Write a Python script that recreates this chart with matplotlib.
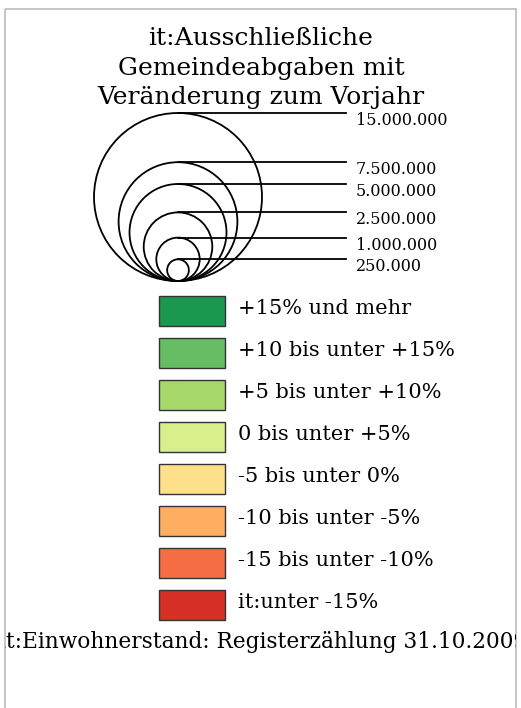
import matplotlib
matplotlib.use("Agg")
import matplotlib.pyplot as plt
from matplotlib.patches import Circle, Rectangle
import numpy as np

title_lines = ["it:Ausschließliche", "Gemeindeabgaben mit", "Veränderung zum Vorjahr"]
size_values = [15000000, 7500000, 5000000, 2500000, 1000000, 250000]
size_labels = ["15.000.000", "7.500.000", "5.000.000", "2.500.000", "1.000.000", "250.000"]
class_labels = ["+15% und mehr", "+10 bis unter +15%", "+5 bis unter +10%",
                "0 bis unter +5%", "-5 bis unter 0%", "-10 bis unter -5%",
                "-15 bis unter -10%", "it:unter -15%"]
class_colors = ["#1a9850", "#66bd63", "#a6d96a", "#d9ef8b",
                "#fee08b", "#fdae61", "#f46d43", "#d73027"]
footer = "it:Einwohnerstand: Registerzählung 31.10.2009"

plt.rcParams['font.family'] = ['DejaVu Serif']

W, H = 521, 708
fig = plt.figure(figsize=(W / 100, H / 100), dpi=100)
ax = fig.add_axes([0, 0, 1, 1])
ax.set_xlim(0, W)
ax.set_ylim(H, 0)
ax.axis('off')

# frame
frame = Rectangle((5, 9), 511, 720, fill=False, edgecolor='#bbbbbb', lw=1.2)
ax.add_patch(frame)

# title
for i, line in enumerate(title_lines):
    ax.text(261, 45 + i * 29.5, line, ha='center', va='baseline', fontsize=18)

# proportional circles (area ~ value), all touching a common bottom point
cx, base_y, r_max = 178, 281, 84
for v, lab in zip(size_values, size_labels):
    r = r_max * np.sqrt(v / size_values[0])
    ax.add_patch(Circle((cx, base_y - r), r, fill=False, edgecolor='black', lw=1.3))
    top = base_y - 2 * r
    ax.plot([cx, 346], [top, top], color='black', lw=1.3)
    ax.text(356, top + 12, lab, ha='left', va='baseline', fontsize=11.5)

# colour classes
box_x, box_w, box_h, step, first_top = 159, 66, 30, 42, 296
for i, (lab, col) in enumerate(zip(class_labels, class_colors)):
    top = first_top + i * step
    ax.add_patch(Rectangle((box_x, top), box_w, box_h, facecolor=col,
                           edgecolor='#333333', lw=1))
    ax.text(238, top + 18, lab, ha='left', va='baseline', fontsize=15)

# footer is wider than the frame and gets cut at its edges, as in the original
t = ax.text(263, 648, footer, ha='center', va='baseline', fontsize=15.6, clip_on=True)
t.set_clip_path(frame)

fig.savefig('out.png', dpi=100)
